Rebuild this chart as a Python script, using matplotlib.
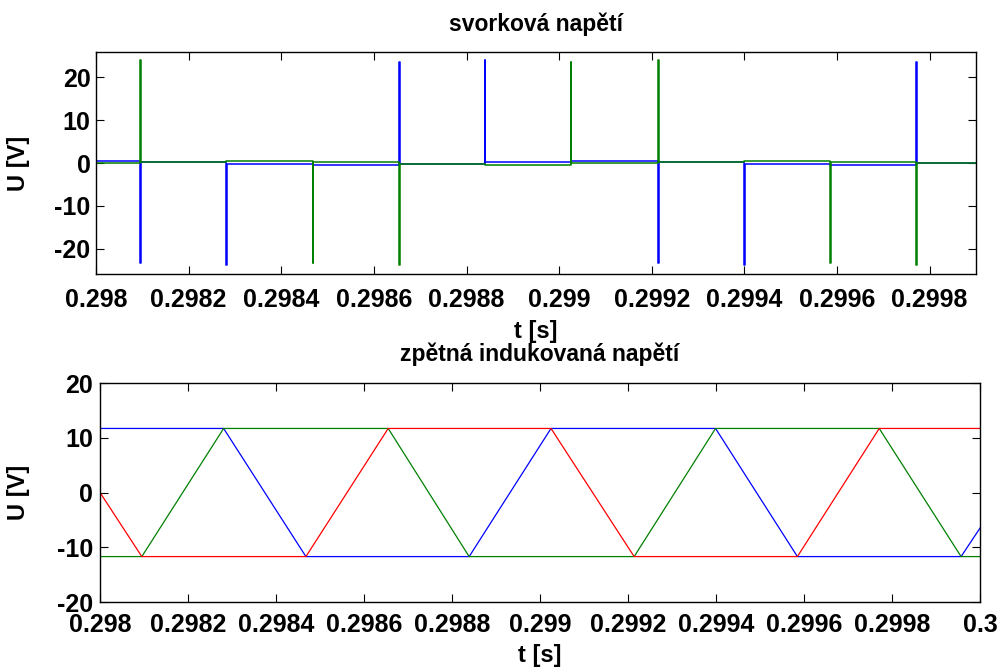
import numpy as np
import matplotlib
matplotlib.use("Agg")
import matplotlib.pyplot as plt
from matplotlib.ticker import FuncFormatter, MultipleLocator

# commutation instants [s]
t_events = [0.298095, 0.298281, 0.298468, 0.298655, 0.298839, 0.299025,
            0.299214, 0.299399, 0.299585, 0.299771, 0.299957]
t_start, t_end = 0.298, 0.300

# terminal voltages: short switching spikes at the commutation instants [V]
spike_c = [-23.4, -23.9, 0.0, 23.5, 24.0, 0.0, -23.3, -23.9, 0.0, 23.5, 0.0]
spike_b = [24.0, 0.0, -23.3, -23.9, 0.0, 23.5, 24.0, 0.0, -23.4, -23.9, 0.0]
# terminal voltage level between the commutation instants [V]
level_c = [0.4, 0.2, -0.2, -0.45, -0.15, 0.15, 0.45, 0.2, -0.2, -0.4, -0.1, 0.15]
level_b = [-0.1, 0.25, 0.4, 0.25, -0.15, -0.45, 0.0, 0.25, 0.4, 0.2, -0.1, -0.45]

# back-EMF breakpoints [V] at t_start, t_events..., t_end
emf_a = [0.0, -11.7, -11.7, -11.7, 11.7, 11.7, 11.7, -11.7, -11.7, -11.7, 11.7, 11.7, 11.7]
emf_b = [-11.7, -11.7, 11.7, 11.7, 11.7, -11.7, -11.7, -11.7, 11.7, 11.7, 11.7, -11.7, -11.7]
emf_c = [11.7, 11.7, 11.7, -11.7, -11.7, -11.7, 11.7, 11.7, 11.7, -11.7, -11.7, -11.7, -6.5]

PULSE = 1.5e-6  # width of a switching spike [s]


def terminal_trace(levels, spikes):
    ts, vs = [t_start], [levels[0]]
    for i, te in enumerate(t_events):
        ts.append(te)
        vs.append(levels[i])
        if spikes[i] != 0.0:
            ts += [te, te + PULSE, te + PULSE]
            vs += [spikes[i], spikes[i], levels[i + 1]]
        else:
            ts.append(te)
            vs.append(levels[i + 1])
    ts.append(t_end)
    vs.append(levels[-1])
    return np.array(ts), np.array(vs)


plt.rcParams["font.family"] = ["Liberation Sans", "DejaVu Sans"]
plt.rcParams["font.weight"] = "bold"
plt.rcParams["axes.unicode_minus"] = False

BLUE, GREEN, RED = (0, 0, 1), (0, 0.5, 0), (1, 0, 0)

fig = plt.figure(figsize=(10, 6.69), dpi=100)
ax1 = fig.add_axes([0.096, 0.5904, 0.88, 0.3318])
ax2 = fig.add_axes([0.100, 0.1001, 0.88, 0.3274])

tb, vb = terminal_trace(level_c, spike_c)
tg, vg = terminal_trace(level_b, spike_b)
ax1.plot(tb, vb, color=BLUE, lw=1.1)
ax1.plot(tg, vg, color=GREEN, lw=1.1)
ax1.set_xlim(0.298, 0.2999)
ax1.set_ylim(-25.9, 25.9)
ax1.set_title("svorková napětí", fontsize=16.5, fontweight="bold", pad=15)

t_knots = [t_start] + t_events + [t_end]
ax2.plot(t_knots, emf_c, color=BLUE, lw=0.9)
ax2.plot(t_knots, emf_b, color=GREEN, lw=0.9)
ax2.plot(t_knots, emf_a, color=RED, lw=0.9)
ax2.set_xlim(0.298, 0.300)
ax2.set_ylim(-20, 20)
ax2.set_title("zpětná indukovaná napětí", fontsize=16.5, fontweight="bold", pad=16)

fmt = FuncFormatter(lambda v, p: "%g" % round(v, 6))
for ax, xpad, ypad, xlpad, ycoord in ((ax1, 10, 4, 6, -0.075),
                                      (ax2, 8, 5, 5, -0.0795)):
    ax.xaxis.set_major_locator(MultipleLocator(0.0002))
    ax.yaxis.set_major_locator(MultipleLocator(10))
    ax.xaxis.set_major_formatter(fmt)
    ax.tick_params(direction="in", length=6, width=0.8, top=True, right=True,
                   labelsize=18)
    ax.tick_params(axis="x", pad=xpad)
    ax.tick_params(axis="y", pad=ypad)
    for s in ax.spines.values():
        s.set_linewidth(1.0)
    ax.set_xlabel("t [s]", fontsize=17, fontweight="bold", labelpad=xlpad)
    ax.set_ylabel("U [V]", fontsize=17, fontweight="bold")
    ax.yaxis.set_label_coords(ycoord, 0.5)
    for lab in ax.get_xticklabels() + ax.get_yticklabels():
        lab.set_fontweight("bold")

fig.savefig("out.png", dpi=100)
